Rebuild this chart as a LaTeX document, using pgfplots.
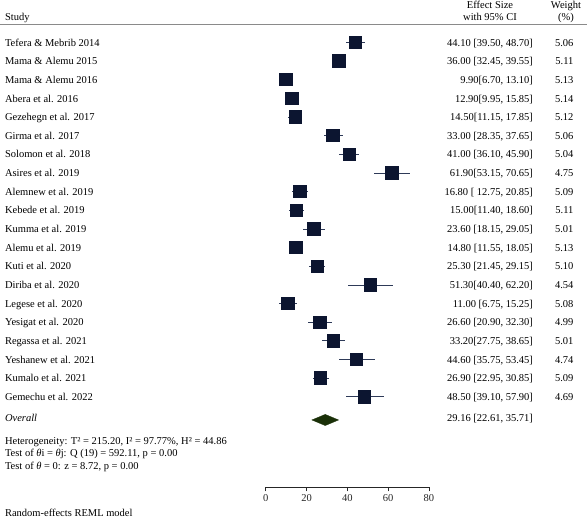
\documentclass[border=0pt]{standalone}
\usepackage{fontspec}
\setmainfont{Liberation Serif}
\usepackage{pgfplots}
\usepackage{pgfplotstable}
\pgfplotsset{compat=1.18}
\definecolor{sqcol}{HTML}{0C1530}
\definecolor{cicol}{HTML}{2E3A58}
\definecolor{dmcol}{HTML}{1A3008}
\definecolor{rulecol}{HTML}{8A8A8A}

\pgfplotstableread{
row es em ep w
-1 44.10 4.60 4.60 5.06
-2 36.00 3.55 3.55 5.11
-3 9.90 3.20 3.20 5.13
-4 12.90 2.95 2.95 5.14
-5 14.50 3.35 3.35 5.12
-6 33.00 4.65 4.65 5.06
-7 41.00 4.90 4.90 5.04
-8 61.90 8.75 8.75 4.75
-9 16.80 4.05 4.05 5.09
-10 15.00 3.60 3.60 5.11
-11 23.60 5.45 5.45 5.01
-12 14.80 3.25 3.25 5.13
-13 25.30 3.85 3.85 5.10
-14 51.30 10.90 10.90 4.54
-15 11.00 4.25 4.25 5.08
-16 26.60 5.70 5.70 4.99
-17 33.20 5.45 5.45 5.01
-18 44.60 8.85 8.85 4.74
-19 26.90 3.95 3.95 5.09
-20 48.50 9.40 9.40 4.69
}\studies

\begin{document}
\begin{tikzpicture}[font=\fontsize{10.5}{12.6}\selectfont]
\useasboundingbox (0pt,0pt) rectangle (587pt,520pt);
\begin{axis}[
  at={(265.7pt,32.7pt)}, anchor=south west,
  scale only axis, width=163.3pt, height=457.3pt,
  xmin=0, xmax=80, ymin=-24.85, ymax=-0.33,
  axis x line=bottom, axis y line=none,
  x axis line style={-, line width=0.8pt, color=black!85},
  xtick={0,20,40,60,80},
  tick align=outside, major tick length=4pt,
  tick style={line width=0.8pt, color=black!85},
  xticklabel style={font=\fontsize{10.5}{12.6}\selectfont, text=black!85},
  /pgf/number format/assume math mode=true,
  clip=false,
]
\addplot[only marks, mark=none, forget plot,
  error bars/.cd, x dir=both, x explicit, error mark=none,
  error bar style={color=cicol, line width=0.8pt}]
  table[x=es, y=row, x error minus=em, x error plus=ep] {\studies};
\addplot[only marks, mark=square*, mark size=6.2pt,
  mark options={draw=sqcol, fill=sqcol, line width=0pt}]
  table[x=es, y=row] {\studies};
\addplot[fill=dmcol, draw=dmcol, line width=0.3pt]
  coordinates {(22.61,-21.24) (29.16,-20.94) (35.71,-21.24) (29.16,-21.54)} -- cycle;
\end{axis}

% header
\node[anchor=base west] at (1.5pt,499.3pt) {Study};
\node[anchor=base] at (490pt,511pt) {Effect Size};
\node[anchor=base] at (490pt,499.3pt) {with 95\% CI};
\node[anchor=base] at (566pt,511pt) {Weight};
\node[anchor=base] at (566pt,499.3pt) {(\%)};
\draw[rulecol, line width=1pt] (0pt,495pt) -- (587pt,495pt);

% rows
\foreach \n/\e/\w [count=\i] in {
 {Tefera \& Mebrib 2014}/{44.10 [39.50, 48.70]}/5.06,
 {Mama \& Alemu 2015}/{36.00 [32.45, 39.55]}/5.11,
 {Mama \& Alemu 2016}/{9.90[6.70, 13.10]}/5.13,
 {Abera et al. 2016}/{12.90[9.95, 15.85]}/5.14,
 {Gezehegn et al. 2017}/{14.50[11.15, 17.85]}/5.12,
 {Girma et al. 2017}/{33.00 [28.35, 37.65]}/5.06,
 {Solomon et al. 2018}/{41.00 [36.10, 45.90]}/5.04,
 {Asires et al. 2019}/{61.90[53.15, 70.65]}/4.75,
 {Alemnew et al. 2019}/{16.80 [ 12.75, 20.85]}/5.09,
 {Kebede et al. 2019}/{15.00[11.40, 18.60]}/5.11,
 {Kumma et al. 2019}/{23.60 [18.15, 29.05]}/5.01,
 {Alemu et al. 2019}/{14.80 [11.55, 18.05]}/5.13,
 {Kuti et al. 2020}/{25.30 [21.45, 29.15]}/5.10,
 {Diriba et al. 2020}/{51.30[40.40, 62.20]}/4.54,
 {Legese et al. 2020}/{11.00 [6.75, 15.25]}/5.08,
 {Yesigat et al. 2020}/{26.60 [20.90, 32.30]}/4.99,
 {Regassa et al. 2021}/{33.20[27.75, 38.65]}/5.01,
 {Yeshanew et al. 2021}/{44.60 [35.75, 53.45]}/4.74,
 {Kumalo et al. 2021}/{26.90 [22.95, 30.85]}/5.09,
 {Gemechu et al. 2022}/{48.50 [39.10, 57.90]}/4.69}
{
 \pgfmathsetmacro{\yy}{473.9-(\i-1)*18.65}
 \node[anchor=base west] at (1.5pt,\yy pt) {\n};
 \node[anchor=base east] at (536.5pt,\yy pt) {\e};
 \node[anchor=base east] at (577pt,\yy pt) {\w};
}

% overall
\node[anchor=base west] at (1.5pt,98.1pt) {\textit{Overall}};
\node[anchor=base east] at (536.5pt,98.1pt) {29.16 [22.61, 35.71]};

% heterogeneity
\node[anchor=base west] at (1.5pt,75.7pt) {Heterogeneity: T² = 215.20, I² = 97.77\%, H² = 44.86};
\node[anchor=base west] at (1.5pt,63.1pt) {Test of \textit{θ}i = \textit{θ}j: Q (19) = 592.11, p = 0.00};
\node[anchor=base west] at (1.5pt,50.4pt) {Test of \textit{θ} = 0: z = 8.72, p = 0.00};
\node[anchor=base west] at (1.5pt,3pt) {Random-effects REML model};
\end{tikzpicture}
\end{document}
